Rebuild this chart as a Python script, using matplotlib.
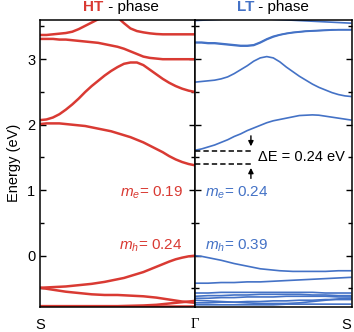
import matplotlib
matplotlib.use('Agg')
import matplotlib.pyplot as plt
import numpy as np
from matplotlib.ticker import MultipleLocator
from matplotlib.transforms import blended_transform_factory

plt.rcParams['font.family'] = ['Liberation Sans', 'DejaVu Sans']
plt.rcParams['mathtext.fontset'] = 'custom'
plt.rcParams['mathtext.rm'] = 'Liberation Sans'
plt.rcParams['mathtext.it'] = 'Liberation Sans:italic'

red = '#d93a33'
blue = '#4472c6'

# k path (S -> Gamma for HT, Gamma -> S for LT)
k13 = np.linspace(0, 1, 13)
k25 = np.linspace(0, 1, 25)

# HT phase bands (S -> Gamma)
ht_a = [3.37, 3.37, 3.38, 3.39, 3.40, 3.42, 3.46, 3.51, 3.56, 3.61, 3.67, 3.70, 3.64,
        3.55, 3.47, 3.43, 3.41, 3.395, 3.385, 3.38, 3.38, 3.38, 3.38, 3.38, 3.38]
ht_b = [3.31, 3.31, 3.31, 3.30, 3.30, 3.29, 3.28, 3.27, 3.26, 3.25, 3.23, 3.21, 3.19,
        3.16, 3.12, 3.08, 3.04, 3.02, 3.01, 3.00, 3.00, 3.00, 3.00, 3.00, 3.00]
ht_c = [2.07, 2.08, 2.11, 2.16, 2.23, 2.31, 2.40, 2.50, 2.59, 2.67, 2.75, 2.82, 2.88,
        2.93, 2.95, 2.95, 2.91, 2.84, 2.77, 2.70, 2.64, 2.59, 2.55, 2.52, 2.50]
ht_d = [2.01, 2.02, 2.02, 2.02, 2.01, 2.00, 1.99, 1.98, 1.96, 1.94, 1.92, 1.90, 1.87,
        1.84, 1.81, 1.77, 1.73, 1.68, 1.63, 1.58, 1.52, 1.47, 1.43, 1.40, 1.38]
ht_e = [-0.49, -0.485, -0.48, -0.475, -0.47, -0.46, -0.45, -0.44, -0.43, -0.415, -0.40,
        -0.38, -0.36, -0.34, -0.31, -0.28, -0.25, -0.21, -0.17, -0.13, -0.09, -0.055,
        -0.03, -0.01, 0.0]
ht_f = [-0.49, -0.505, -0.52, -0.535, -0.55, -0.56, -0.57, -0.58, -0.59, -0.595, -0.60,
        -0.60, -0.60, -0.605, -0.61, -0.615, -0.62, -0.63, -0.64, -0.655, -0.67, -0.685,
        -0.70, -0.71, -0.72]
ht_g = [-0.77, -0.77, -0.77, -0.77, -0.77, -0.77, -0.77, -0.765, -0.76, -0.75, -0.73, -0.71, -0.69]
ht_h = [-0.775] * 13
ht_bands = [ht_a, ht_b, ht_c, ht_d, ht_e, ht_f, ht_g, ht_h]

# LT phase bands (Gamma -> S)
lt_a = [3.59, 3.60, 3.61, 3.62, 3.62, 3.62, 3.61, 3.60, 3.59, 3.58, 3.57, 3.56, 3.55]
lt_b = [3.25, 3.25, 3.24, 3.24, 3.23, 3.22, 3.21, 3.20, 3.20, 3.21, 3.25, 3.30, 3.34,
        3.37, 3.39, 3.405, 3.415, 3.425, 3.43, 3.435, 3.44, 3.445, 3.45, 3.45, 3.45]
lt_b2 = [3.26, 3.26, 3.25, 3.25, 3.24, 3.23, 3.22, 3.21, 3.21, 3.22, 3.26, 3.31, 3.35,
         3.375, 3.395, 3.41, 3.42, 3.43, 3.435, 3.44, 3.445, 3.45, 3.45, 3.45, 3.45]
lt_c = [2.65, 2.66, 2.67, 2.68, 2.70, 2.73, 2.78, 2.84, 2.90, 2.97, 3.02, 3.04, 3.02,
        2.96, 2.88, 2.81, 2.74, 2.68, 2.62, 2.57, 2.53, 2.49, 2.46, 2.44, 2.43]
lt_d = [1.61, 1.63, 1.66, 1.69, 1.73, 1.77, 1.82, 1.86, 1.91, 1.95, 1.99, 2.03, 2.06,
        2.08, 2.10, 2.12, 2.14, 2.145, 2.15, 2.145, 2.13, 2.115, 2.10, 2.085, 2.07]
lt_e = [0.0, -0.01, -0.03, -0.05, -0.07, -0.095, -0.12, -0.14, -0.16, -0.18, -0.20, -0.21,
        -0.22, -0.23, -0.235, -0.24, -0.24, -0.24, -0.24, -0.24, -0.24, -0.235, -0.23,
        -0.23, -0.23]
lt_f = [-0.42, -0.42, -0.41, -0.41, -0.40, -0.40, -0.39, -0.38, -0.37, -0.36, -0.35, -0.34, -0.33]
lt_g = [-0.57, -0.57, -0.56, -0.56, -0.56, -0.56, -0.56, -0.56, -0.56, -0.56, -0.57, -0.57, -0.57]
lt_h = [-0.62, -0.61, -0.61, -0.60, -0.60, -0.59, -0.59, -0.59, -0.59, -0.60, -0.60, -0.61, -0.61]
lt_i = [-0.65, -0.65, -0.64, -0.64, -0.63, -0.63, -0.63, -0.62, -0.62, -0.62, -0.62, -0.63, -0.63]
lt_j = [-0.68, -0.69, -0.70, -0.71, -0.72, -0.73, -0.73, -0.73, -0.72, -0.70, -0.68, -0.66, -0.65]
lt_k = [-0.72, -0.72, -0.71, -0.71, -0.70, -0.70, -0.69, -0.69, -0.68, -0.68, -0.67, -0.67, -0.67]
lt_l = [-0.75, -0.75, -0.75, -0.75, -0.75, -0.75, -0.75, -0.74, -0.74, -0.74, -0.74, -0.74, -0.74]
lt_bands = [lt_a, lt_b, lt_b2, lt_c, lt_d, lt_e, lt_f, lt_g, lt_h, lt_i, lt_j, lt_k, lt_l]

ht_cbm = 1.40
lt_cbm = 1.605


def kgrid(band):
    return k25 if len(band) == 25 else k13


fig = plt.figure(figsize=(3.54, 3.32), dpi=100)
ax1 = fig.add_axes([0.113, 0.076, 0.438, 0.864])
ax2 = fig.add_axes([0.551, 0.076, 0.442, 0.864])

for band in ht_bands:
    ax1.plot(kgrid(band), band, color=red, lw=1.8, solid_capstyle='butt')
for band in lt_bands:
    ax2.plot(kgrid(band), band, color=blue, lw=1.2, solid_capstyle='butt')

for ax in (ax1, ax2):
    ax.set_xlim(0, 1)
    ax.set_ylim(-0.78, 3.6)
    ax.yaxis.set_major_locator(MultipleLocator(1))
    ax.yaxis.set_minor_locator(MultipleLocator(0.5))
    ax.tick_params(axis='y', which='both', direction='in', left=True, right=True)
    ax.tick_params(axis='y', which='major', length=4, width=1)
    ax.tick_params(axis='y', which='minor', length=3, width=1)
    ax.set_xticks([])
    for s in ax.spines.values():
        s.set_linewidth(1.1)

ax1.tick_params(axis='y', labelsize=10.5)
ax2.tick_params(axis='y', labelleft=False)
ax1.set_ylabel('Energy (eV)', fontsize=10.5, labelpad=4)

# k-point labels
tr1 = blended_transform_factory(ax1.transData, ax1.transAxes)
tr2 = blended_transform_factory(ax2.transData, ax2.transAxes)
ax1.text(0, -0.062, 'S', fontsize=10.5, ha='center', va='center', transform=tr1)
ax1.text(1, -0.062, 'Γ', fontsize=10.5, ha='center', va='center', transform=tr1,
         family='Liberation Serif')
ax2.text(1.0, -0.062, 'S', fontsize=10.5, ha='right', va='center', transform=tr2)

# titles
ax1.text(0.41, 1.045, 'HT', color=red, fontweight='bold', fontsize=11,
         ha='right', va='center', transform=ax1.transAxes)
ax1.text(0.41, 1.045, ' - phase', color='black', fontsize=11,
         ha='left', va='center', transform=ax1.transAxes)
ax2.text(0.377, 1.045, 'LT', color=blue, fontweight='bold', fontsize=11,
         ha='right', va='center', transform=ax2.transAxes)
ax2.text(0.377, 1.045, ' - phase', color='black', fontsize=11,
         ha='left', va='center', transform=ax2.transAxes)

# effective masses
ax1.text(0.92, 0.96, r'$m_e$= 0.19', color=red, fontsize=11, ha='right', va='center')
ax1.text(0.92, 0.15, r'$m_h$= 0.24', color=red, fontsize=11, ha='right', va='center')
ax2.text(0.064, 0.96, r'$m_e$= 0.24', color=blue, fontsize=11, ha='left', va='center')
ax2.text(0.064, 0.15, r'$m_h$= 0.39', color=blue, fontsize=11, ha='left', va='center')

# band gap offset
ax2.plot([0, 0.37], [lt_cbm, lt_cbm], color='black', lw=1.1, ls=(0, (3.5, 2)))
ax2.plot([0, 0.37], [ht_cbm, ht_cbm], color='black', lw=1.1, ls=(0, (3.5, 2)))
arrow = dict(arrowstyle='-|>,head_length=0.3,head_width=0.15', color='black', lw=1,
             shrinkA=0, shrinkB=0)
ax2.annotate('', xy=(0.357, 1.67), xytext=(0.357, 1.83), arrowprops=arrow)
ax2.annotate('', xy=(0.357, 1.34), xytext=(0.357, 1.18), arrowprops=arrow)
ax2.text(0.40, 1.50, 'ΔE = 0.24 eV', fontsize=10.5, ha='left', va='center')

fig.savefig('out.png', dpi=100)
